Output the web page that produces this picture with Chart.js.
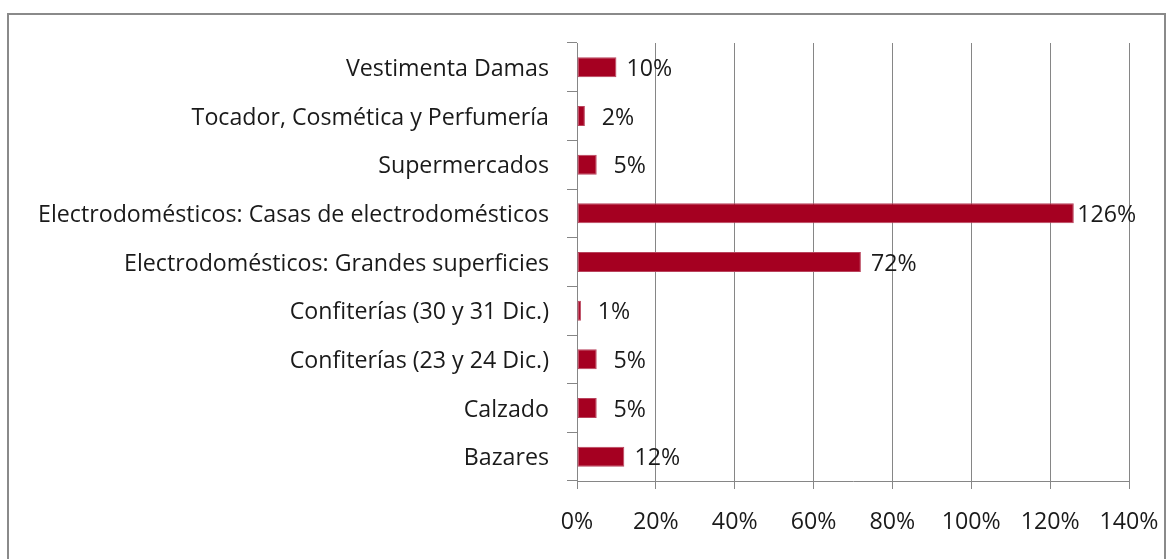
<!DOCTYPE html>
<html>
<head>
<meta charset="utf-8">
<script src="https://cdn.jsdelivr.net/npm/chart.js@4/dist/chart.umd.min.js"></script>
<style>
  html, body { margin: 0; padding: 0; background: #fff; overflow: hidden; }
  #wrap { position: relative; width: 1173px; height: 559px; }
  #frame { position: absolute; left: 7px; top: 13px; width: 1155px; height: 600px;
           border: 2px solid #8a8a8a; border-bottom: none; box-sizing: content-box; }
  canvas { position: absolute; left: 0; top: 0; }
</style>
</head>
<body>
<div id="wrap">
  <div id="frame"></div>
  <canvas id="c" width="1173" height="559"></canvas>
</div>
<script>
const categories = [
  "Vestimenta Damas",
  "Tocador, Cosmética y Perfumería",
  "Supermercados",
  "Electrodomésticos: Casas de electrodomésticos",
  "Electrodomésticos: Grandes superficies",
  "Confiterías (30 y 31 Dic.)",
  "Confiterías (23 y 24 Dic.)",
  "Calzado",
  "Bazares"
];
const values = [10, 2, 5, 126, 72, 1, 5, 5, 12];
const xTicks = [0, 20, 40, 60, 80, 100, 120, 140];

const FONT = { family: "'Open Sans', 'Liberation Sans', sans-serif", size: 23.2 };
const TEXT = '#1a1a1a';
const GRID = '#868686';

const valueLabels = {
  id: 'valueLabels',
  afterDatasetsDraw(chart) {
    const ctx = chart.ctx;
    const meta = chart.getDatasetMeta(0);
    ctx.save();
    ctx.font = FONT.size + 'px ' + FONT.family;
    ctx.fillStyle = TEXT;
    ctx.textAlign = 'center';
    ctx.textBaseline = 'middle';
    meta.data.forEach((bar, i) => {
      ctx.fillText(values[i] + '%', bar.x + 33, bar.y + 2);
    });
    ctx.restore();
  }
};

new Chart(document.getElementById('c'), {
  type: 'bar',
  data: {
    labels: categories,
    datasets: [{
      data: values,
      backgroundColor: '#A50021',
      borderColor: '#B9435C',
      borderWidth: 1,
      borderSkipped: false,
      categoryPercentage: 1,
      barPercentage: 0.41
    }]
  },
  options: {
    indexAxis: 'y',
    responsive: false,
    animation: false,
    devicePixelRatio: 1,
    layout: { padding: { left: 0, top: 43, right: 44, bottom: 0 } },
    plugins: { legend: { display: false }, tooltip: { enabled: false } },
    scales: {
      x: {
        min: 0, max: 140,
        afterBuildTicks(scale) { scale.ticks = xTicks.map(v => ({ value: v })); },
        afterFit(scale) { scale.height = 78; scale.paddingLeft = 0; scale.paddingRight = 0; },
        ticks: { color: TEXT, font: FONT, padding: 19, callback: v => v + '%' },
        grid: { color: GRID, lineWidth: 1, tickLength: 8, drawTicks: true },
        border: { display: true, color: GRID, width: 1 }
      },
      y: {
        afterFit(scale) { scale.width = 577; scale.paddingTop = 0; scale.paddingBottom = 0; },
        ticks: { color: TEXT, font: FONT, padding: 18, labelOffset: 2 },
        grid: { color: GRID, lineWidth: 1, drawOnChartArea: false, tickLength: 10, offset: true },
        border: { display: true, color: GRID, width: 1 }
      }
    }
  },
  plugins: [valueLabels]
});
</script>
</body>
</html>
